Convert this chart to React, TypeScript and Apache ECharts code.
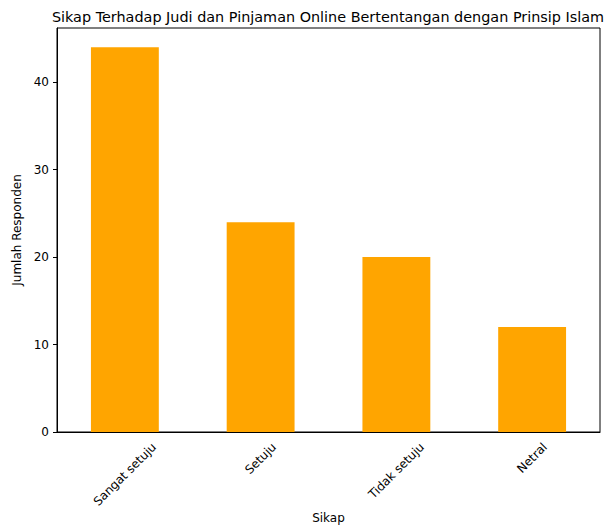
import React, { useEffect, useRef } from "react";
import * as echarts from "echarts";

const categories = ["Sangat setuju", "Setuju", "Tidak setuju", "Netral"];
const values = [44, 24, 20, 12];
const yTicks = [0, 10, 20, 30, 40];

const FONT = "DejaVu Sans";
const LABEL_SIZE = 12;

export default function App() {
  const ref = useRef<HTMLDivElement>(null);
  useEffect(() => {
    const chart = echarts.init(ref.current!, null, { renderer: "svg" });
    chart.setOption({
      animation: false,
      textStyle: { fontFamily: FONT },
      title: {
        text: "Sikap Terhadap Judi dan Pinjaman Online Bertentangan dengan Prinsip Islam",
        left: 323,
        textAlign: "center",
        top: 5,
        textStyle: { fontFamily: FONT, fontSize: 14.4, fontWeight: "normal", color: "#000" },
      },
      grid: {
        left: 57,
        right: 6,
        top: 28,
        bottom: 94,
        outerBoundsMode: "none",
        show: true,
        borderColor: "#000",
        borderWidth: 1,
        backgroundColor: "#fff",
      },
      xAxis: {
        type: "category",
        data: categories,
        name: "Sikap",
        nameLocation: "middle",
        nameGap: 80,
        nameTextStyle: { fontFamily: FONT, fontSize: LABEL_SIZE, color: "#000" },
        axisLine: { lineStyle: { color: "#000" } },
        axisTick: { alignWithLabel: true, length: 4, lineStyle: { color: "#000" } },
        axisLabel: { show: false },
      },
      yAxis: {
        type: "value",
        min: 0,
        max: 46.2,
        interval: 10,
        name: "Jumlah Responden",
        nameLocation: "middle",
        nameGap: 31,
        nameTextStyle: { fontFamily: FONT, fontSize: LABEL_SIZE, color: "#000" },
        splitLine: { show: false },
        axisLine: { show: true, lineStyle: { color: "#000" } },
        axisTick: { show: true, length: 4, lineStyle: { color: "#000" }, customValues: yTicks },
        axisLabel: { fontFamily: FONT, fontSize: LABEL_SIZE, color: "#000", margin: 8, customValues: yTicks },
      },
      series: [
        {
          type: "bar",
          data: values,
          barWidth: "50%",
          itemStyle: { color: "#FFA500" },
        },
      ],
    });

    // rotated category labels, centred under each tick (matplotlib style)
    const canvas = document.createElement("canvas");
    const ctx = canvas.getContext("2d")!;
    ctx.font = `${LABEL_SIZE}px "${FONT}"`;
    const axisY = chart.convertToPixel({ yAxisIndex: 0 }, 0) as number;
    const h = LABEL_SIZE * 1.17;
    const s = Math.SQRT1_2;
    const labels = categories.map((c) => {
      const x = chart.convertToPixel({ xAxisIndex: 0 }, c) as number;
      const w = ctx.measureText(c).width;
      const half = ((w + h) * s) / 2;
      return {
        type: "text",
        x,
        y: axisY + 8 + half,
        rotation: Math.PI / 4,
        style: {
          text: c,
          fontFamily: FONT,
          fontSize: LABEL_SIZE,
          fill: "#000",
          align: "center",
          verticalAlign: "middle",
        },
      };
    });
    chart.setOption({ graphic: labels });
    return () => chart.dispose();
  }, []);
  return <div ref={ref} style={{ width: 606, height: 526, position: "absolute", left: 0, top: 0 }} />;
}
